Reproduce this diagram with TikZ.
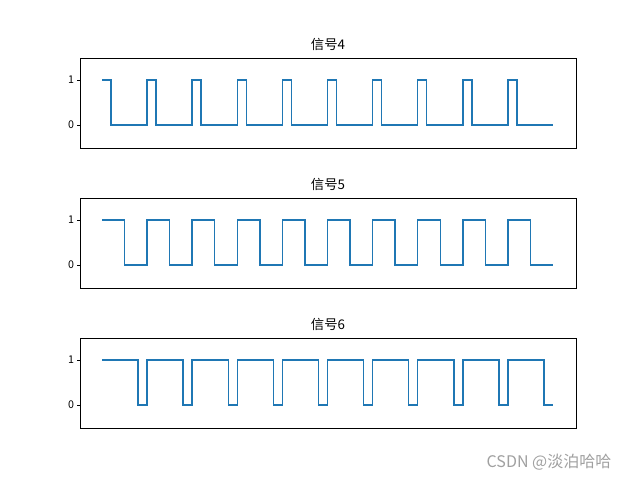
\documentclass[tikz,border=0pt]{standalone}
\usepackage{fontspec}
\setmainfont{Noto Sans CJK SC}
\definecolor{mplblue}{RGB}{31,119,180}
\definecolor{ccgrey}{RGB}{160,160,160}

\begin{document}
\begin{tikzpicture}[x=0.75pt, y=-0.75pt]

  % Styles
  \tikzstyle{cadre} = [line width=0.6pt]
  \tikzstyle{signal} = [mplblue, line width=1.1pt, line join=miter]
  \tikzstyle{titre} = [font=\fontsize{10}{11}\selectfont]
  \tikzstyle{graduation} = [font=\fontsize{8}{9}\selectfont, anchor=east, inner sep=1.5pt]

  % Boîte englobante
  \useasboundingbox (0,0) rectangle (640,480);

  % Trois signaux : indice, décalage vertical, durée à l'état haut
  \foreach \n/\dy/\d in {4/0/2, 5/140/5, 6/280/8} {
    \begin{scope}[yshift=-0.75*\dy pt]
      % Axes
      \draw[cadre] (80,58) rectangle (576,148);
      \node[titre] (titre\n) at (328,44) {信号\n};
      \draw[cadre] (80,80) -- (76.5,80) node[graduation] (un\n) {1};
      \draw[cadre] (80,125) -- (76.5,125) node[graduation] (zero\n) {0};
      % Signal carré
      \begin{scope}[shift={(102,125)}, xscale=4.51, yscale=-45]
        \draw[signal] (0,1)
          \foreach \k in {0,...,8} {
            -- ({10*\k+\d},1) -- ({10*\k+\d},0) -- ({10*\k+10},0) -- ({10*\k+10},1)
          }
          -- ({90+\d},1) -- ({90+\d},0) -- (100,0);
      \end{scope}
    \end{scope}
  }

  % Filigrane
  \node[ccgrey, font=\fontsize{12}{13}\selectfont] (filigrane) at (549,462) {CSDN @淡泊哈哈};

\end{tikzpicture}
\end{document}
